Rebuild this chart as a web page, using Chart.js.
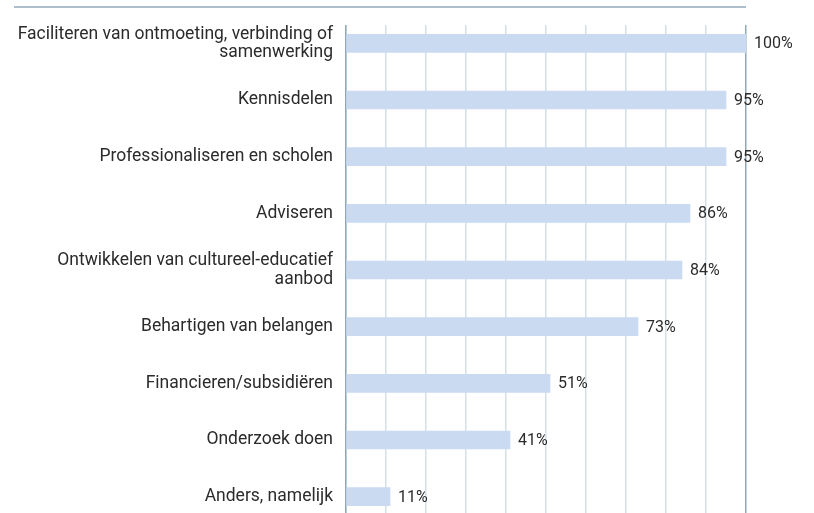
<!DOCTYPE html>
<html><head><meta charset="utf-8">
<script src="https://cdn.jsdelivr.net/npm/chart.js@4/dist/chart.umd.min.js"></script>
<style>html,body{margin:0;padding:0;background:#fff;overflow:hidden;width:814px;height:513px}canvas{display:block}</style>
</head><body><canvas id="c" width="814" height="530"></canvas>
<script>
const categories = [
  ["Faciliteren van ontmoeting, verbinding of", "samenwerking"],
  "Kennisdelen",
  "Professionaliseren en scholen",
  "Adviseren",
  ["Ontwikkelen van cultureel-educatief", "aanbod"],
  "Behartigen van belangen",
  "Financieren/subsidiëren",
  "Onderzoek doen",
  "Anders, namelijk"
];
const values = [100, 95, 95, 86, 84, 73, 51, 41, 11];
const xTicks = [0, 10, 20, 30, 40, 50, 60, 70, 80, 90, 100];

const FONT = "Roboto, 'DejaVu Sans', sans-serif";
const extras = {
  id: 'extras',
  beforeDatasetsDraw(chart) {
    const {ctx, chartArea} = chart;
    ctx.save();
    ctx.fillStyle = '#ffffff';
    ctx.fillRect(chartArea.left - 2, 0, chartArea.right - chartArea.left + 5, 25);
    ctx.restore();
  },
  afterDatasetsDraw(chart) {
    const {ctx} = chart;
    const meta = chart.getDatasetMeta(0);
    ctx.save();
    ctx.font = "16px " + FONT;
    ctx.fillStyle = '#2b2b2b';
    ctx.textAlign = 'left';
    ctx.textBaseline = 'middle';
    meta.data.forEach((bar, i) => {
      ctx.fillText(values[i] + '%', bar.x + 8, bar.y + 1);
    });
    // top rule
    ctx.strokeStyle = '#aebdca';
    ctx.lineWidth = 2;
    ctx.beginPath();
    ctx.moveTo(14, 7);
    ctx.lineTo(chart.chartArea.right, 7);
    ctx.stroke();
    ctx.restore();
  }
};

new Chart(document.getElementById('c'), {
  type: 'bar',
  data: {
    labels: categories,
    datasets: [{
      data: values,
      backgroundColor: '#c9daf1',
      borderWidth: 0,
      barThickness: 18
    }]
  },
  options: {
    indexAxis: 'y',
    responsive: false,
    maintainAspectRatio: false,
    animation: false,
    layout: {padding: {top: 15, right: 68, bottom: 5, left: 0}},
    plugins: {legend: {display: false}, tooltip: {enabled: false}},
    scales: {
      x: {
        min: 0, max: 100,
        afterBuildTicks: (s) => { s.ticks = xTicks.map(v => ({value: v})); },
        afterFit: (s) => { s.height = 0; s.paddingLeft = 0; s.paddingRight = 0; },
        ticks: {display: false},
        border: {display: false},
        grid: {
          drawTicks: false,
          color: (c) => c.tick && c.tick.value === 100 ? '#8fa7b6' : '#d3dfe8',
          lineWidth: 1.5
        }
      },
      y: {
        afterFit: (s) => { s.width = 346; s.paddingTop = 0; s.paddingBottom = 0; },
        grid: {display: false, drawTicks: false},
        border: {display: true, color: '#8fa7b6', width: 1.5},
        ticks: {
          padding: 13,
          color: '#2b2b2b',
          font: {family: FONT, size: 17.5, lineHeight: 1.05}
        }
      }
    }
  },
  plugins: [extras]
});
</script></body></html>
